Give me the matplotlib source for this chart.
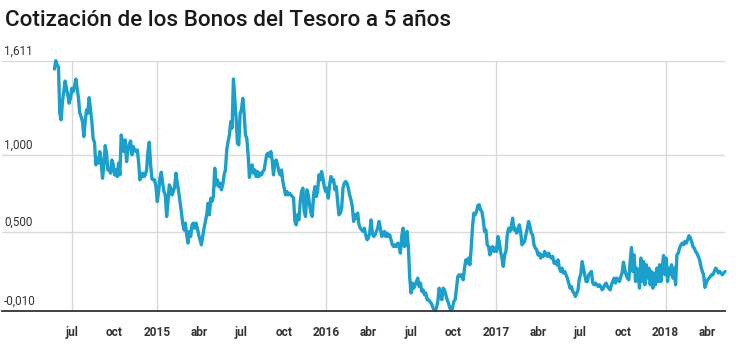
import matplotlib
matplotlib.use("Agg")
import matplotlib.pyplot as plt
import matplotlib.transforms as mtransforms
import pandas as pd

plt.rcParams['font.family'] = ['Roboto', 'DejaVu Sans']

title = "Cotización de los Bonos del Tesoro a 5 años"

start_date = "2014-05-25"
end_date = "2018-05-09"

values_2014 = [
    1.557, 1.611, 1.583, 1.572, 1.270, 1.227, 1.345, 1.410, 1.479, 1.432,
    1.389, 1.335, 1.367, 1.432, 1.410, 1.443, 1.492, 1.432, 1.367, 1.270,
    1.248, 1.216, 1.119, 1.216, 1.291, 1.270, 1.371, 1.291, 1.216, 1.103,
    1.082, 0.935, 0.978, 0.946, 1.021, 0.956, 0.848, 0.935, 1.060, 1.011,
    0.902, 0.902, 0.881, 0.967, 0.935, 0.870, 0.902, 0.859, 0.946, 0.870,
    1.129, 1.082, 1.021, 1.097, 0.956, 1.032, 1.069, 1.090, 1.000, 1.054,
    1.032, 1.021, 1.032, 0.956, 0.838, 0.859, 0.881, 0.859, 0.870, 0.902,
    1.021, 1.082, 0.935, 0.844, 0.838, 0.838, 0.794, 0.697, 0.762, 0.848,
    0.887, 0.816, 0.762, 0.740, 0.600, 0.697, 0.805, 0.784, 0.740, 0.762,
    0.794, 0.881, 0.816, 0.762, 0.697, 0.632, 0.557, 0.513, 0.557,
]

values_2015 = [
    0.481, 0.427, 0.503, 0.470, 0.546, 0.557, 0.524, 0.557, 0.524, 0.481,
    0.449, 0.416, 0.470, 0.524, 0.568, 0.611, 0.686, 0.611, 0.719, 0.697,
    0.730, 0.913, 0.805, 0.838, 0.794, 0.816, 0.773, 0.805, 0.870, 0.902,
    1.032, 1.086, 1.129, 1.216, 1.173, 1.492, 1.367, 1.237, 1.075, 1.065,
    1.270, 1.291, 1.367, 1.270, 1.129, 1.108, 1.000, 0.853, 0.913, 0.935,
    0.881, 0.902, 0.859, 0.892, 0.859, 0.881, 0.870, 0.892, 0.902, 0.956,
    1.004, 1.011, 0.989, 1.021, 0.967, 0.870, 0.956, 0.967, 0.935, 0.892,
    0.870, 0.902, 0.827, 0.784, 0.740, 0.762, 0.740, 0.751, 0.740, 0.730,
    0.719, 0.568, 0.546, 0.611, 0.578, 0.697, 0.762, 0.784, 0.632, 0.600,
    0.773, 0.740, 0.676, 0.622, 0.600, 0.740, 0.794, 0.730, 0.762, 0.870,
    0.838,
]

values_2016 = [
    0.892, 0.848, 0.794, 0.762, 0.784, 0.719, 0.805, 0.859, 0.827, 0.838,
    0.773, 0.794, 0.697, 0.611, 0.622, 0.654, 0.784, 0.816, 0.827, 0.816,
    0.784, 0.740, 0.708, 0.665, 0.568, 0.611, 0.589, 0.622, 0.546, 0.524,
    0.513, 0.503, 0.524, 0.481, 0.449, 0.459, 0.492, 0.578, 0.492, 0.470,
    0.481, 0.503, 0.524, 0.568, 0.524, 0.470, 0.481, 0.503, 0.470, 0.492,
    0.470, 0.481, 0.449, 0.416, 0.405, 0.416, 0.405, 0.427, 0.416, 0.362,
    0.470, 0.524, 0.405, 0.416, 0.503, 0.395, 0.200, 0.103, 0.168, 0.135,
    0.157, 0.178, 0.200, 0.146, 0.168, 0.114, 0.124, 0.092, 0.103, 0.060,
    0.060, 0.049, 0.038, 0.016, -0.005, -0.010, 0.006, 0.049, 0.135, 0.092,
    0.060, 0.135, 0.124, 0.092, 0.060, 0.038, 0.006, -0.010, 0.006, 0.049,
    0.060,
]

values_2017 = [
    0.135, 0.211, 0.222, 0.211, 0.222, 0.189, 0.265, 0.319, 0.297, 0.330,
    0.287, 0.395, 0.535, 0.622, 0.611, 0.632, 0.671, 0.676, 0.643, 0.632,
    0.578, 0.503, 0.513, 0.416, 0.405, 0.351, 0.395, 0.405, 0.373, 0.395,
    0.373, 0.470, 0.438, 0.373, 0.330, 0.276, 0.351, 0.373, 0.481, 0.524,
    0.503, 0.535, 0.589, 0.513, 0.524, 0.492, 0.503, 0.546, 0.503, 0.416,
    0.427, 0.438, 0.481, 0.524, 0.568, 0.535, 0.492, 0.481, 0.416, 0.395,
    0.384, 0.351, 0.362, 0.330, 0.351, 0.341, 0.373, 0.351, 0.341, 0.362,
    0.341, 0.330, 0.341, 0.297, 0.308, 0.287, 0.319, 0.265, 0.243, 0.265,
    0.233, 0.243, 0.222, 0.200, 0.168, 0.135, 0.146, 0.114, 0.103, 0.081,
    0.103, 0.124, 0.200, 0.222, 0.308, 0.265, 0.222, 0.178, 0.178, 0.222,
    0.233,
]

values_2018 = [
    0.243, 0.168, 0.157, 0.168, 0.157, 0.146, 0.157, 0.146, 0.124, 0.135,
    0.157, 0.168, 0.146, 0.135, 0.124, 0.157, 0.178, 0.200, 0.168, 0.200,
    0.189, 0.178, 0.211, 0.233, 0.304, 0.254, 0.222, 0.200, 0.189, 0.308,
    0.399, 0.243, 0.351, 0.178, 0.265, 0.222, 0.135, 0.330, 0.178, 0.308,
    0.157, 0.287, 0.200, 0.265, 0.157, 0.243, 0.135, 0.233, 0.157, 0.265,
    0.178, 0.287, 0.178, 0.265, 0.347, 0.222, 0.330, 0.178, 0.265, 0.222,
    0.287, 0.200, 0.265, 0.157, 0.351, 0.362, 0.395, 0.416, 0.427, 0.416,
    0.438, 0.427, 0.449, 0.475, 0.464, 0.438, 0.405, 0.395, 0.373, 0.362,
    0.341, 0.319, 0.276, 0.243, 0.222, 0.140, 0.168, 0.189, 0.200, 0.211,
    0.222, 0.222, 0.243, 0.265, 0.254, 0.233, 0.243, 0.233, 0.222, 0.233,
    0.243,
]

tick_dates = ["2014-07-01", "2014-10-01", "2015-01-01", "2015-04-01",
              "2015-07-01", "2015-10-01", "2016-01-01", "2016-04-01",
              "2016-07-01", "2016-10-01", "2017-01-01", "2017-04-01",
              "2017-07-01", "2017-10-01", "2018-01-01", "2018-04-01"]
tick_labels = ["jul", "oct", "2015", "abr", "jul", "oct", "2016", "abr",
               "jul", "oct", "2017", "abr", "jul", "oct", "2018", "abr"]
grid_dates = ["2014-07-01", "2015-01-01", "2016-01-01", "2017-01-01", "2018-01-01"]
y_ticks = [-0.010, 0.500, 1.000, 1.611]
y_labels = ["-0,010", "0,500", "1,000", "1,611"]
x_limits = ["2014-02-01", "2018-05-09"]

values = values_2014 + values_2015 + values_2016 + values_2017 + values_2018
dates = pd.date_range(start_date, end_date, periods=len(values))

W, H = 742, 351
fig = plt.figure(figsize=(W / 100, H / 100), dpi=100)
top_px, bot_px, left_px, right_px = 60.7, 310.5, 2, 725
ax = fig.add_axes([left_px / W, 1 - bot_px / H, (right_px - left_px) / W,
                   (bot_px - top_px) / H])

ax.set_xlim(pd.Timestamp(x_limits[0]), pd.Timestamp(x_limits[1]))
ax.set_ylim(y_ticks[0], y_ticks[-1])

grid_color = '#d9d9d9'
for yv in y_ticks[1:]:
    ax.axhline(yv, color=grid_color, lw=1.0, zorder=1)
for gd in grid_dates:
    ax.axvline(pd.Timestamp(gd), color=grid_color, lw=1.0, zorder=1)
ax.axhline(y_ticks[0], color='#333333', lw=1.3, zorder=3, clip_on=False)

ax.plot(dates, values, color='#1c9fcb', lw=2.4, solid_joinstyle='round',
        solid_capstyle='round', zorder=2, clip_on=False)

for sp in ax.spines.values():
    sp.set_visible(False)
ax.set_yticks([])
ax.set_xticks([pd.Timestamp(d) for d in tick_dates])
ax.set_xticklabels(tick_labels, fontsize=8.6, fontweight='bold', color='#333333')
ax.tick_params(axis='x', length=0, pad=11)

trans = mtransforms.blended_transform_factory(ax.transAxes, ax.transData)
for yv, lab in zip(y_ticks, y_labels):
    ax.annotate(lab, xy=(0.003, yv), xycoords=trans, xytext=(0, 2.2),
                textcoords='offset points', ha='left', va='bottom',
                fontsize=8.4, color='#333333')

fig.text(5 / W, 1 - 26 / H, title, fontsize=16.2, fontweight='medium',
         color='#1a1a1a', ha='left', va='baseline')

fig.savefig("out.png", dpi=100)
